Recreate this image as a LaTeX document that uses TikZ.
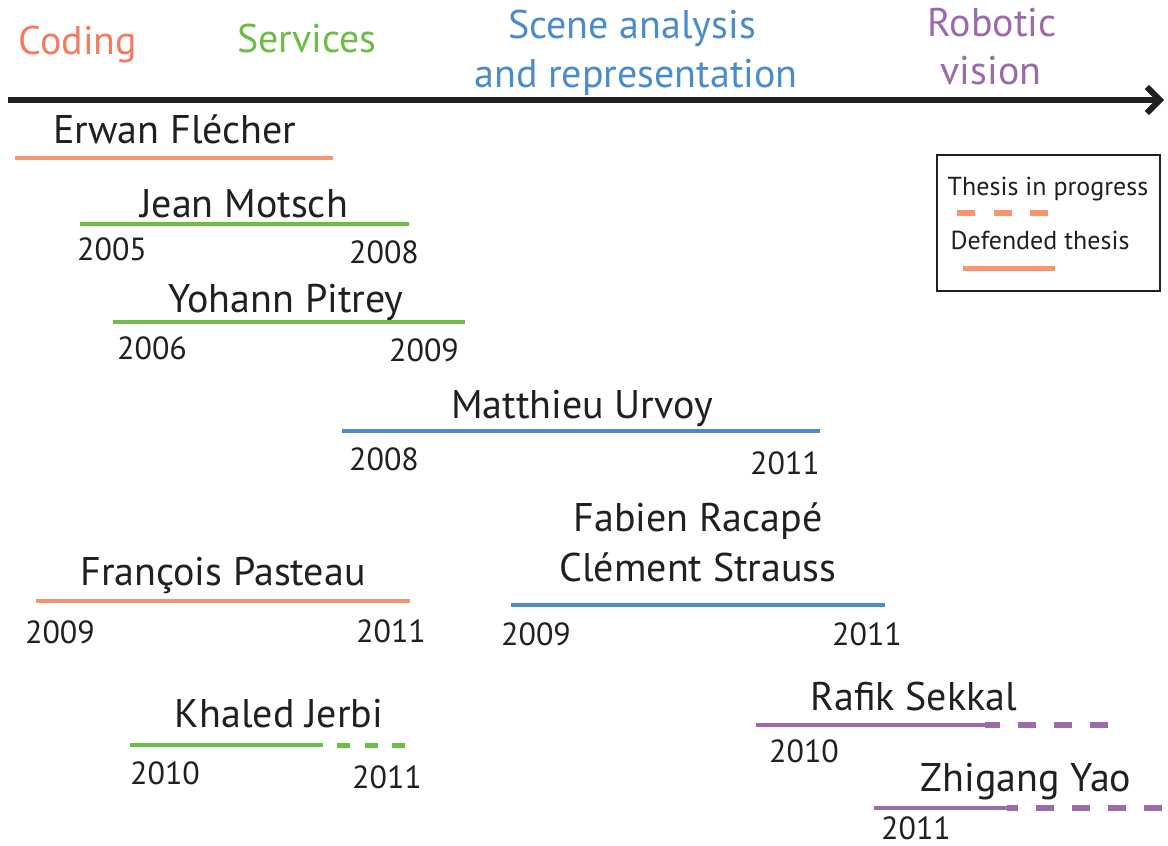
\documentclass[tikz,border=0pt]{standalone}
\usepackage{fontspec}
\setmainfont{PT Sans}
\usetikzlibrary{arrows.meta}
\definecolor{txt}{HTML}{231F20}
\definecolor{codtxt}{HTML}{F47B5E}
\definecolor{codline}{HTML}{F7956E}
\definecolor{srv}{HTML}{6CBD45}
\definecolor{scn}{HTML}{4A8CCB}
\definecolor{rob}{HTML}{9A6AAA}
\tikzset{
  catlabel/.style={anchor=base, inner sep=0pt, font=\fontsize{40}{44}\selectfont},
  person/.style={anchor=base, inner sep=0pt, text=txt, font=\fontsize{40}{44}\selectfont},
  yearlabel/.style={anchor=base, inner sep=0pt, text=txt, font=\fontsize{32}{36}\selectfont},
  legendtext/.style={anchor=base, inner sep=0pt, text=txt, font=\fontsize{26}{30}\selectfont},
  span/.style={line width=4pt},
  ongoing/.style={line width=6pt, dash pattern=on 18pt off 18pt},
}
\begin{document}
\begin{tikzpicture}[x=1pt,y=-1pt]
\path[use as bounding box, fill=white] (0,0) rectangle (1168,846);

% time axis
\coordinate (axs) at (8,100);
\coordinate (axe) at (1164,100);
\draw[line width=6pt, txt, -{Straight Barb[length=13pt,width=26pt,line width=6pt]}] (axs) -- (axe);

% research themes
\node[catlabel, text=codtxt] (coding) at (78,54) {Coding};
\node[catlabel, text=srv] (services) at (307,52) {Services};
\node[catlabel, text=scn] (scene1) at (632,38) {Scene analysis};
\node[catlabel, text=scn] (scene2) at (636,87) {and representation};
\node[catlabel, text=rob] (robot1) at (992,36) {Robotic};
\node[catlabel, text=rob] (robot2) at (991,84) {vision};

% Erwan Flécher
\node[person] (erwan) at (175,143) {Erwan Flécher};
\coordinate (erwanA) at (15,158);
\coordinate (erwanB) at (333,158);
\draw[span, codline] (erwanA) -- (erwanB);

% Jean Motsch
\node[person] (jean) at (244,217) {Jean Motsch};
\coordinate (jeanA) at (80,224);
\coordinate (jeanB) at (409,224);
\draw[span, srv] (jeanA) -- (jeanB);
\node[yearlabel] (jeanY1) at (112,260) {2005};
\node[yearlabel] (jeanY2) at (384,263) {2008};

% Yohann Pitrey
\node[person] (yohann) at (286,312) {Yohann Pitrey};
\coordinate (yohannA) at (113,322);
\coordinate (yohannB) at (465,322);
\draw[span, srv] (yohannA) -- (yohannB);
\node[yearlabel] (yohannY1) at (152,359) {2006};
\node[yearlabel] (yohannY2) at (424,361) {2009};

% Matthieu Urvoy
\node[person] (matthieu) at (582,418) {Matthieu Urvoy};
\coordinate (matthieuA) at (342,431);
\coordinate (matthieuB) at (820,431);
\draw[span, scn] (matthieuA) -- (matthieuB);
\node[yearlabel] (matthieuY1) at (384,470) {2008};
\node[yearlabel] (matthieuY2) at (785,474) {2011};

% Fabien Racapé and Clément Strauss
\node[person] (fabien) at (698,531) {Fabien Racapé};
\node[person] (clement) at (698,581) {Clément Strauss};
\coordinate (fcA) at (511,605);
\coordinate (fcB) at (885,605);
\draw[span, scn] (fcA) -- (fcB);
\node[yearlabel] (fcY1) at (536,645) {2009};
\node[yearlabel] (fcY2) at (867,645) {2011};

% François Pasteau
\node[person] (francois) at (223,585) {François Pasteau};
\coordinate (francoisA) at (36,601);
\coordinate (francoisB) at (410,601);
\draw[span, codline] (francoisA) -- (francoisB);
\node[yearlabel] (francoisY1) at (60,643) {2009};
\node[yearlabel] (francoisY2) at (391,642) {2011};

% Khaled Jerbi
\node[person] (khaled) at (279,727) {Khaled Jerbi};
\coordinate (khaledA) at (130,745);
\coordinate (khaledB) at (323,745);
\coordinate (khaledC) at (337,745);
\coordinate (khaledD) at (405,745);
\draw[span, srv] (khaledA) -- (khaledB);
\draw[srv, line width=5pt, dash pattern=on 13pt off 14.5pt] (khaledC) -- (khaledD);
\node[yearlabel] (khaledY1) at (165,784) {2010};
\node[yearlabel] (khaledY2) at (387,788) {2011};

% Rafik Sekkal
\node[person] (rafik) at (914,710) {Rafik Sekkal};
\coordinate (rafikA) at (756,725);
\coordinate (rafikB) at (985,725);
\coordinate (rafikC) at (1110,725);
\draw[span, rob] (rafikA) -- (rafikB);
\draw[ongoing, rob, dash phase=3pt] (rafikB) -- (rafikC);
\node[yearlabel] (rafikY1) at (804,762) {2010};

% Zhigang Yao
\node[person] (zhigang) at (1026,791) {Zhigang Yao};
\coordinate (zhigangA) at (874,808);
\coordinate (zhigangB) at (1007,808);
\coordinate (zhigangC) at (1168,808);
\draw[span, rob] (zhigangA) -- (zhigangB);
\draw[ongoing, rob, dash phase=7pt] (zhigangB) -- (zhigangC);
\node[yearlabel] (zhigangY1) at (916,839) {2011};

% legend
\node[draw=txt, line width=2pt, minimum width=223pt, minimum height=136pt, inner sep=0pt] (legend) at (1048.5,223) {};
\node[legendtext] (lgprog) at (1048,195) {Thesis in progress};
\coordinate (lgdA) at (957,213);
\coordinate (lgdB) at (1048,213);
\draw[codline, line width=6pt, dash pattern=on 18pt off 18.5pt] (lgdA) -- (lgdB);
\node[legendtext] (lgdef) at (1040,249) {Defended thesis};
\coordinate (lgsA) at (963,268);
\coordinate (lgsB) at (1055,268);
\draw[codline, line width=5pt] (lgsA) -- (lgsB);
\end{tikzpicture}
\end{document}
